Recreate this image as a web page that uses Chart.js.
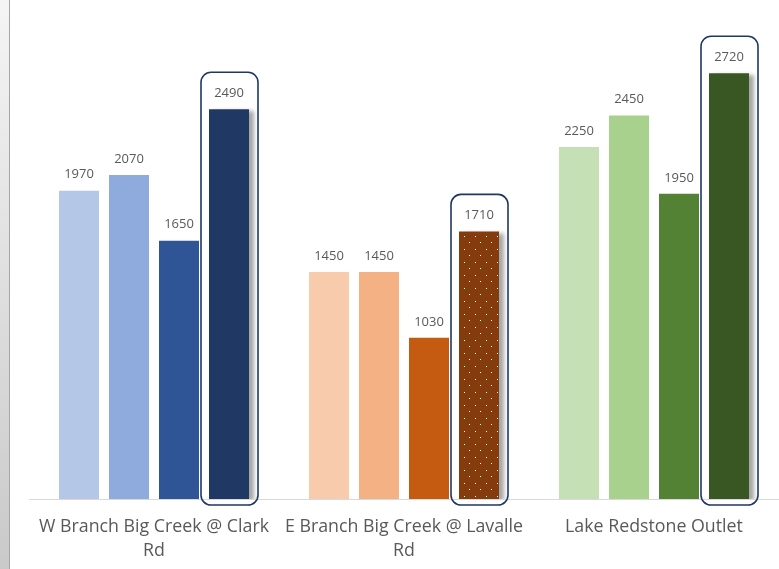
<!DOCTYPE html>
<html>
<head>
<meta charset="utf-8">
<script src="https://cdn.jsdelivr.net/npm/chart.js@4.4.1/dist/chart.umd.min.js"></script>
<style>
    body { margin: 0; background: #fff; }
    #wrap { position: relative; width: 779px; height: 569px; overflow: hidden; }
    #strip { position: absolute; left: 0; top: 0; width: 9px; height: 569px;
             background: linear-gradient(#f4f4f4, #c9c9c9); border-right: 1px solid #a6a6a6; }
    canvas { position: absolute; left: 0; top: 0; }
</style>
</head>
<body>
<div id="wrap">
    <canvas id="chart" width="779" height="569"></canvas>
    <div id="strip"></div>
</div>
<script>
const categories = [
    ["W Branch Big Creek @ Clark", "Rd"],
    ["E Branch Big Creek @ Lavalle", "Rd"],
    ["Lake Redstone Outlet"]
];
// one array per bar position within each group
const bar1 = [1970, 1450, 2250];
const bar2 = [2070, 1450, 2450];
const bar3 = [1650, 1030, 1950];
const bar4 = [2490, 1710, 2720];

const colors1 = ["#B4C7E7", "#F8CBAD", "#C5E0B4"];
const colors2 = ["#8FAADC", "#F4B183", "#A9D18E"];
const colors3 = ["#2F5597", "#C55A11", "#548235"];
const colors4 = ["#1F3864", "dots", "#385723"];

function dotPattern(base) {
    const c = document.createElement("canvas");
    c.width = 11; c.height = 13;
    const g = c.getContext("2d");
    g.fillStyle = base;
    g.fillRect(0, 0, 11, 13);
    g.fillStyle = "#ffffff";
    g.fillRect(2, 2, 1, 1);
    g.fillRect(7, 8, 1, 1);
    return g.createPattern(c, "repeat");
}
const pat = dotPattern("#843C0C");
const fill4 = colors4.map(c => c === "dots" ? pat : c);

const shadowPlugin = {
    id: "shadow",
    beforeDatasetDraw(chart, args) {
        if (args.index === 3) {
            const ctx = chart.ctx;
            ctx.save();
            ctx.shadowColor = "rgba(0,0,0,0.35)";
            ctx.shadowBlur = 4;
            ctx.shadowOffsetX = 5;
            ctx.shadowOffsetY = 2;
        }
    },
    afterDatasetDraw(chart, args) {
        if (args.index === 3) chart.ctx.restore();
    }
};

const labelPlugin = {
    id: "labels",
    afterDatasetsDraw(chart) {
        const ctx = chart.ctx;
        const base = chart.scales.y.getPixelForValue(0);
        ctx.save();
        // rounded outline around the 4th bar of each group
        chart.getDatasetMeta(3).data.forEach(bar => {
            const l = bar.x - bar.width / 2 - 8;
            const r = bar.x + bar.width / 2 + 9;
            const t = bar.y - 37;
            const b = base + 6;
            ctx.beginPath();
            ctx.roundRect(l, t, r - l, b - t, 10);
            ctx.lineWidth = 1.6;
            ctx.strokeStyle = "#1F3864";
            ctx.stroke();
        });
        ctx.fillStyle = "#595959";
        ctx.font = "13px 'Open Sans'";
        ctx.textAlign = "center";
        ctx.textBaseline = "middle";
        chart.data.datasets.forEach((ds, i) => {
            chart.getDatasetMeta(i).data.forEach((bar, j) => {
                ctx.fillText(ds.data[j], bar.x, bar.y - 16);
            });
        });
        ctx.restore();
    }
};

new Chart(document.getElementById("chart"), {
    type: "bar",
    data: {
        labels: categories,
        datasets: [
            { data: bar1, backgroundColor: colors1 },
            { data: bar2, backgroundColor: colors2 },
            { data: bar3, backgroundColor: colors3 },
            { data: bar4, backgroundColor: fill4 }
        ]
    },
    options: {
        responsive: false,
        animation: false,
        layout: { padding: { left: 29, right: 0, top: 29.5, bottom: 0 } },
        plugins: { legend: { display: false }, tooltip: { enabled: false } },
        datasets: { bar: { categoryPercentage: 0.8, barPercentage: 0.8 } },
        scales: {
            x: {
                grid: { display: false },
                border: { color: "#D9D9D9", width: 1 },
                ticks: {
                    color: "#595959",
                    font: { family: "'Open Sans'", size: 17.8, lineHeight: 1.4 },
                    padding: 7,
                    maxRotation: 0,
                    autoSkip: false
                },
                afterFit(scale) { scale.height = 70; }
            },
            y: { display: false, min: 0, max: 3000 }
        }
    },
    plugins: [shadowPlugin, labelPlugin]
});
</script>
</body>
</html>
